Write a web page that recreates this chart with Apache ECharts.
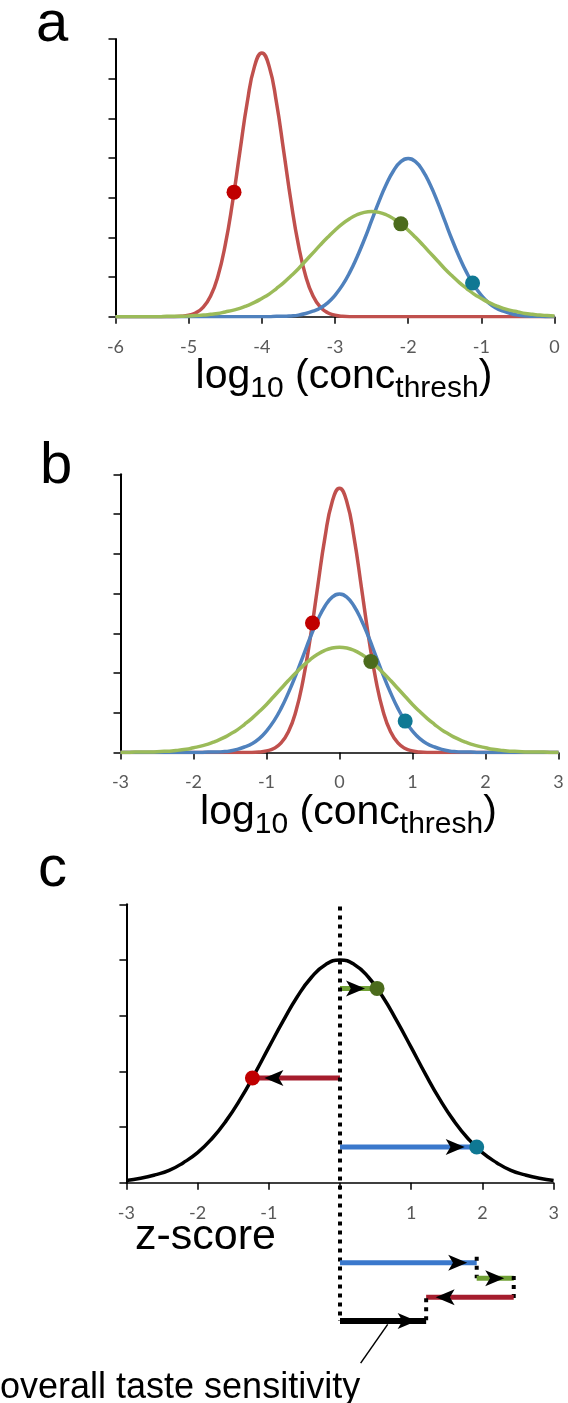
<!DOCTYPE html>
<html>
<head>
<meta charset="utf-8">
<script src="https://cdn.jsdelivr.net/npm/echarts@6/dist/echarts.min.js"></script>
<style>
  html, body { margin: 0; padding: 0; background: #fff; }
  #chart { width: 568px; height: 1403px; }
</style>
</head>
<body>
<div id="chart"></div>
<script>
// panel a: threshold distributions on the log10 concentration scale
const xA = [-6, -5.9, -5.8, -5.7, -5.6, -5.5, -5.4, -5.3, -5.2, -5.1, -5, -4.9, -4.8, -4.7, -4.6, -4.5, -4.4, -4.3, -4.2, -4.1, -4, -3.9, -3.8, -3.7, -3.6, -3.5, -3.4, -3.3, -3.2, -3.1, -3, -2.9, -2.8, -2.7, -2.6, -2.5, -2.4, -2.3, -2.2, -2.1, -2, -1.9, -1.8, -1.7, -1.6, -1.5, -1.4, -1.3, -1.2, -1.1, -1, -0.9, -0.8, -0.7, -0.6, -0.5, -0.4, -0.3, -0.2, -0.1, 0]
const redA = [0, 0, 0, 0, 0, 0, 0, 0, 0, 0.01, 0.04, 0.10, 0.24, 0.52, 1.02, 1.81, 2.89, 4.16, 5.40, 6.31, 6.65, 6.31, 5.40, 4.16, 2.89, 1.81, 1.02, 0.52, 0.24, 0.10, 0.04, 0.01, 0, 0, 0, 0, 0, 0, 0, 0, 0, 0, 0, 0, 0, 0, 0, 0, 0, 0, 0, 0, 0, 0, 0, 0, 0, 0, 0, 0, 0]
const blueA = [0, 0, 0, 0, 0, 0, 0, 0, 0, 0, 0, 0, 0, 0, 0, 0, 0, 0, 0, 0, 0, 0, 0.01, 0.01, 0.02, 0.04, 0.08, 0.14, 0.22, 0.35, 0.54, 0.79, 1.11, 1.50, 1.94, 2.42, 2.90, 3.33, 3.68, 3.91, 3.99, 3.91, 3.68, 3.33, 2.90, 2.42, 1.94, 1.50, 1.11, 0.79, 0.54, 0.35, 0.22, 0.14, 0.08, 0.04, 0.02, 0.01, 0.01, 0, 0]
const greenA = [0, 0, 0, 0, 0, 0, 0, 0.01, 0.01, 0.01, 0.02, 0.03, 0.04, 0.06, 0.08, 0.12, 0.16, 0.21, 0.28, 0.36, 0.46, 0.57, 0.71, 0.86, 1.03, 1.21, 1.41, 1.61, 1.81, 2.00, 2.18, 2.34, 2.47, 2.57, 2.63, 2.65, 2.63, 2.57, 2.47, 2.34, 2.18, 2.00, 1.81, 1.61, 1.41, 1.21, 1.03, 0.86, 0.71, 0.57, 0.46, 0.36, 0.28, 0.21, 0.16, 0.12, 0.08, 0.06, 0.04, 0.03, 0.02]
const dotsA = { red: [-4.38, 3.14], green: [-2.1, 2.34], blue: [-1.12, 0.85] }

// panel b: same distributions centred on their means
const xB = [-3, -2.9, -2.8, -2.7, -2.6, -2.5, -2.4, -2.3, -2.2, -2.1, -2, -1.9, -1.8, -1.7, -1.6, -1.5, -1.4, -1.3, -1.2, -1.1, -1, -0.9, -0.8, -0.7, -0.6, -0.5, -0.4, -0.3, -0.2, -0.1, 0, 0.1, 0.2, 0.3, 0.4, 0.5, 0.6, 0.7, 0.8, 0.9, 1, 1.1, 1.2, 1.3, 1.4, 1.5, 1.6, 1.7, 1.8, 1.9, 2, 2.1, 2.2, 2.3, 2.4, 2.5, 2.6, 2.7, 2.8, 2.9, 3]
const redB = [0, 0, 0, 0, 0, 0, 0, 0, 0, 0, 0, 0, 0, 0, 0, 0, 0, 0, 0, 0.01, 0.04, 0.10, 0.24, 0.52, 1.02, 1.81, 2.89, 4.16, 5.40, 6.31, 6.65, 6.31, 5.40, 4.16, 2.89, 1.81, 1.02, 0.52, 0.24, 0.10, 0.04, 0.01, 0, 0, 0, 0, 0, 0, 0, 0, 0, 0, 0, 0, 0, 0, 0, 0, 0, 0, 0]
const blueB = [0, 0, 0, 0, 0, 0, 0, 0, 0, 0, 0, 0, 0.01, 0.01, 0.02, 0.04, 0.08, 0.14, 0.22, 0.35, 0.54, 0.79, 1.11, 1.50, 1.94, 2.42, 2.90, 3.33, 3.68, 3.91, 3.99, 3.91, 3.68, 3.33, 2.90, 2.42, 1.94, 1.50, 1.11, 0.79, 0.54, 0.35, 0.22, 0.14, 0.08, 0.04, 0.02, 0.01, 0.01, 0, 0, 0, 0, 0, 0, 0, 0, 0, 0, 0, 0]
const greenB = [0, 0, 0.01, 0.01, 0.01, 0.02, 0.03, 0.04, 0.06, 0.08, 0.12, 0.16, 0.21, 0.28, 0.36, 0.46, 0.57, 0.71, 0.86, 1.03, 1.21, 1.41, 1.61, 1.81, 2.00, 2.18, 2.34, 2.47, 2.57, 2.63, 2.65, 2.63, 2.57, 2.47, 2.34, 2.18, 2.00, 1.81, 1.61, 1.41, 1.21, 1.03, 0.86, 0.71, 0.57, 0.46, 0.36, 0.28, 0.21, 0.16, 0.12, 0.08, 0.06, 0.04, 0.03, 0.02, 0.01, 0.01, 0.01, 0, 0]
const dotsB = { red: [-0.37, 3.26], green: [0.43, 2.29], blue: [0.9, 0.79] }

// panel c: z-scores on the standard curve
const xC = [-3, -2.8, -2.6, -2.4, -2.2, -2, -1.8, -1.6, -1.4, -1.2, -1, -0.8, -0.6, -0.4, -0.2, 0, 0.2, 0.4, 0.6, 0.8, 1, 1.2, 1.4, 1.6, 1.8, 2, 2.2, 2.4, 2.6, 2.8, 3]
const normC = [0.04, 0.08, 0.14, 0.22, 0.36, 0.54, 0.79, 1.11, 1.50, 1.95, 2.43, 2.90, 3.34, 3.69, 3.92, 4.00, 3.92, 3.69, 3.34, 2.90, 2.43, 1.95, 1.50, 1.11, 0.79, 0.54, 0.36, 0.22, 0.14, 0.08, 0.04]
const dotsC = { red: [-1.23, 1.88], green: [0.52, 3.49], blue: [1.92, 0.64] }

// rows of the summed arrows under panel c (layout only)
const rows = { blue: -1.47, green: -1.75, red: -2.09, total: -2.52 }

const curveCol = { red: '#C0504D', blue: '#4F81BD', green: '#9BBB59' }
const dotCol = { red: '#C00000', blue: '#0F7893', green: '#4B6B1C' }
const arrowCol = { red: '#A51D2D', blue: '#3A78CC', green: '#70A035' }

const FONT = '"Liberation Sans", Arial, sans-serif'
const zip = (xs, ys) => xs.map((x, i) => [x, ys[i]])

const grids = [
  { left: 115.5, top: 39, width: 439, height: 277.7 },
  { left: 120.5, top: 474.3, width: 438, height: 278.2 },
  { left: 126.4, top: 904.3, width: 427.2, height: 278.4 },
  { left: 126.4, top: 904.3, width: 427.2, height: 501.1 }
]

const titleRich = {
  m: { fontSize: 41, lineHeight: 41, fontFamily: FONT, color: '#000', verticalAlign: 'top' },
  s: { fontSize: 30, lineHeight: 30, fontFamily: FONT, color: '#000', verticalAlign: 'top', padding: [17, 0, 0, 0] }
}
const titleText = '{m|log}{s|10}{m| (conc}{s|thresh}{m|)}'
const tickLabel = { color: '#595959', fontSize: 18, fontFamily: 'Lato', margin: 21 }

function xAxisOf (gi, min, max, extra) {
  return Object.assign({
    gridIndex: gi,
    type: 'value',
    min: min,
    max: max,
    interval: 1,
    axisLine: { onZero: false, lineStyle: { color: '#000', width: 1.5 } },
    axisTick: { show: true, length: 7, lineStyle: { color: '#000', width: 1.5 } },
    axisLabel: tickLabel,
    splitLine: { show: false }
  }, extra || {})
}
function yAxisOf (gi, max) {
  return {
    gridIndex: gi,
    type: 'value',
    min: 0,
    max: max,
    interval: 1,
    axisLine: { show: true, onZero: false, lineStyle: { color: '#000', width: 2 } },
    axisTick: { show: true, length: 7, lineStyle: { color: '#000', width: 1.5 } },
    axisLabel: { show: false },
    splitLine: { show: false }
  }
}

const titleName = {
  name: titleText,
  nameLocation: 'middle',
  nameGap: 38,
  nameTextStyle: { rich: titleRich, padding: [0, 0, 0, 18] }
}

// a smooth distribution curve
const curve = (gi, xs, ys, color) => ({
  type: 'line', xAxisIndex: gi, yAxisIndex: gi,
  data: zip(xs, ys), smooth: true, showSymbol: false, symbol: 'none',
  lineStyle: { color: color, width: 3.5 }, z: 2
})
const dots = (gi, d) => ({
  type: 'scatter', xAxisIndex: gi, yAxisIndex: gi, symbolSize: 15, z: 4,
  data: ['red', 'green', 'blue'].map(k => ({ value: d[k], itemStyle: { color: dotCol[k], opacity: 1 } }))
})
const seg = (gi, p, q, color, width) => ({
  type: 'line', xAxisIndex: gi, yAxisIndex: gi, data: [p, q], showSymbol: false, symbol: 'none',
  lineStyle: { color: color, width: width, cap: 'butt' }, z: 3
})
const dotted = (gi, p, q) => ({
  type: 'line', xAxisIndex: gi, yAxisIndex: gi, data: [p, q], showSymbol: false, symbol: 'none',
  lineStyle: { color: '#000', width: 4, type: [4, 5], cap: 'butt' }, z: 3
})
// arrow head: tip sits `off` px before the point along the direction
const head = (x, y, dir, off) => ({
  value: [x, y], symbolRotate: dir > 0 ? -90 : 90, symbolOffset: [dir > 0 ? -off : off, 0]
})
const heads = (gi, list) => ({
  type: 'scatter', xAxisIndex: gi, yAxisIndex: gi, symbol: 'arrow', symbolSize: [12, 19],
  itemStyle: { color: '#000', opacity: 1 }, z: 5, data: list
})

const zb = dotsC.blue[0]
const zg = zb + dotsC.green[0]
const zr = zg + dotsC.red[0]

const series = [
  curve(0, xA, redA, curveCol.red),
  curve(0, xA, blueA, curveCol.blue),
  curve(0, xA, greenA, curveCol.green),
  dots(0, dotsA),
  curve(1, xB, redB, curveCol.red),
  curve(1, xB, blueB, curveCol.blue),
  curve(1, xB, greenB, curveCol.green),
  dots(1, dotsB),
  curve(2, xC, normC, '#000'),
  // arrows from the mean to each z-score
  seg(2, [0, dotsC.green[1]], dotsC.green, arrowCol.green, 5),
  seg(2, [0, dotsC.red[1]], dotsC.red, arrowCol.red, 5),
  seg(2, [0, dotsC.blue[1]], dotsC.blue, arrowCol.blue, 5),
  dots(2, dotsC),
  heads(2, [
    head(dotsC.green[0], dotsC.green[1], 1, 12),
    head(dotsC.red[0], dotsC.red[1], -1, 12),
    head(dotsC.blue[0], dotsC.blue[1], 1, 12)
  ]),
  // summing the z-scores
  dotted(3, [0, 4.96], [0, rows.total]),
  seg(3, [0, rows.blue], [zb, rows.blue], arrowCol.blue, 5),
  dotted(3, [zb, -1.36], [zb, -1.75]),
  seg(3, [zb, rows.green], [zg, rows.green], arrowCol.green, 5),
  dotted(3, [zg, -1.71], [zg, -2.11]),
  seg(3, [zg, rows.red], [zr, rows.red], arrowCol.red, 5),
  dotted(3, [zr, -2.11], [zr, rows.total]),
  seg(3, [0, rows.total], [zr, rows.total], '#000', 6),
  seg(3, [0.67, -2.58], [0.29, -3.28], '#000', 1.5),
  heads(3, [
    head(zb, rows.blue, 1, 9.5),
    head(zg, rows.green, 1, 9.5),
    head(zr, rows.red, -1, 9.5),
    head(zr, rows.total, 1, 9.5)
  ])
]

const letter = (t, x, y) => ({
  type: 'text', x: x, y: y,
  style: { text: t, font: '58px ' + FONT, fill: '#000', textAlign: 'left', textVerticalAlign: 'middle', align: 'left', verticalAlign: 'middle' }
})

const chart = echarts.init(document.getElementById('chart'), null, { renderer: 'canvas' })
chart.setOption({
  animation: false,
  backgroundColor: '#fff',
  grid: grids,
  xAxis: [
    xAxisOf(0, -6, 0, titleName),
    xAxisOf(1, -3, 3, titleName),
    xAxisOf(2, -3, 3, { axisLabel: Object.assign({}, tickLabel, { formatter: v => (v === 0 ? '' : String(v)) }) }),
    { gridIndex: 3, type: 'value', min: -3, max: 3, show: false }
  ],
  yAxis: [
    yAxisOf(0, 7),
    yAxisOf(1, 7),
    yAxisOf(2, 5),
    { gridIndex: 3, type: 'value', min: -4, max: 5, show: false }
  ],
  series: series,
  graphic: [
    letter('a', 36, 25),
    letter('b', 40, 467),
    letter('c', 38, 870),
    {
      type: 'text', x: 135, y: 1237,
      style: { text: 'z-score', font: '43px ' + FONT, fill: '#000', textAlign: 'left', textVerticalAlign: 'middle', align: 'left', verticalAlign: 'middle' }
    },
    {
      type: 'text', x: 0, y: 1388,
      style: { text: 'overall taste sensitivity', font: '36px ' + FONT, fill: '#000', textAlign: 'left', textVerticalAlign: 'middle', align: 'left', verticalAlign: 'middle' }
    }
  ]
})
</script>
</body>
</html>
